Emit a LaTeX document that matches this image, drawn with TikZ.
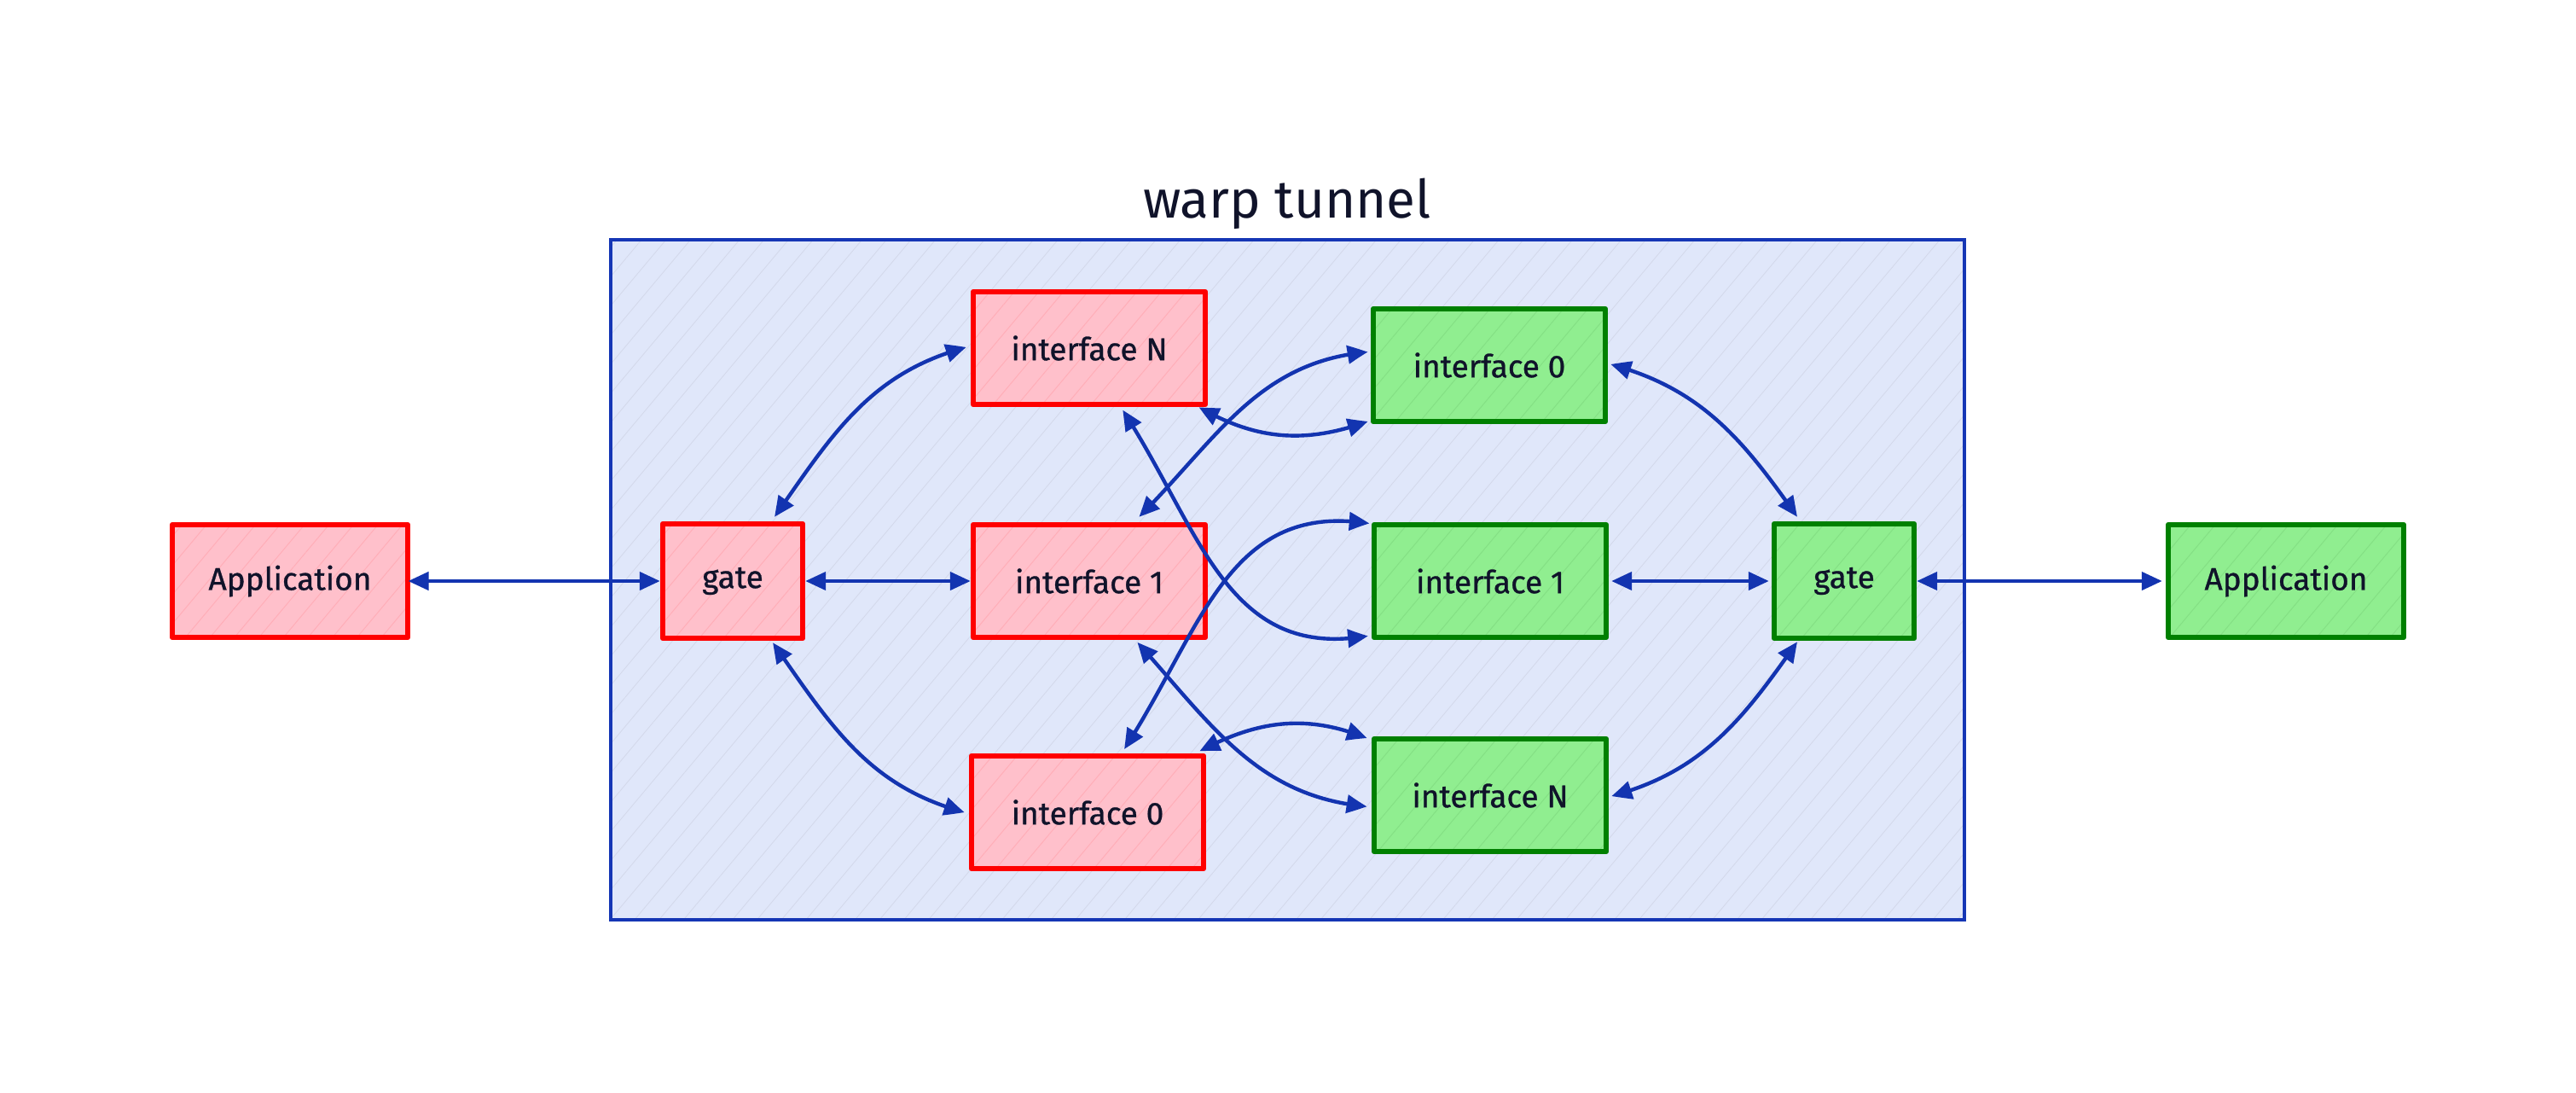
\documentclass[tikz,border=0pt]{standalone}
\usepackage{fontspec}
\setmainfont{Fira Sans}
\newfontfamily\boxfont{Fira Sans}[FakeBold=0.8]
\usetikzlibrary{arrows.meta,patterns.meta,bending}

\definecolor{tunnelfill}{HTML}{E0E7FA}
\definecolor{tunnelline}{HTML}{D3D8EA}
\definecolor{tunneldraw}{HTML}{1536B5}
\definecolor{redfill}{HTML}{FFC0CB}
\definecolor{redline}{HTML}{FFAEB8}
\definecolor{reddraw}{HTML}{FF0000}
\definecolor{greenfill}{HTML}{90EE90}
\definecolor{greenline}{HTML}{84E084}
\definecolor{greendraw}{HTML}{008000}
\definecolor{arrowcol}{HTML}{1334B0}
\definecolor{textcol}{HTML}{10132A}

\tikzset{
  boxbase/.style={rectangle, inner sep=0pt, text=textcol,
    font=\boxfont\fontsize{18.5}{20}\selectfont, line width=3.2pt, line join=round},
  redbox/.style={boxbase, draw=reddraw, preaction={fill=redfill},
    pattern={Lines[angle=50,distance=11pt,line width=0.5pt]}, pattern color=redline},
  greenbox/.style={boxbase, draw=greendraw, preaction={fill=greenfill},
    pattern={Lines[angle=50,distance=11pt,line width=0.5pt]}, pattern color=greenline},
  ifacesz/.style={minimum width=136pt, minimum height=66pt},
  gatesz/.style={minimum width=82pt, minimum height=67pt},
  appsz/.style={minimum width=138pt, minimum height=66pt},
  tunnelbox/.style={rectangle, draw=tunneldraw, line width=2.2pt,
    preaction={fill=tunnelfill},
    pattern={Lines[angle=50,distance=11pt,line width=0.4pt]}, pattern color=tunnelline},
  titletext/.style={text=textcol, font=\fontsize{31}{34}\selectfont, inner sep=0pt},
  link/.style={draw=arrowcol, line width=2.2pt, line cap=round,
    {Triangle[length=12pt,width=10.5pt,bend]}-{Triangle[length=12pt,width=10.5pt,bend]}},
}

\begin{document}
\begin{tikzpicture}[x=1pt,y=1pt]
\useasboundingbox (0,0) rectangle (1510,-640);
\fill[white] (0,0) rectangle (1510,-640);

% tunnel
\node[tunnelbox, minimum width=793.5pt, minimum height=398.5pt] (tunnel) at (754.75,-339.75) {};
\node[titletext, anchor=base] (title) at (754.5,-127.5) {warp tunnel};

% left side (red)
\node[redbox, appsz]   (appL) at (170,-340.5)   {Application};
\node[redbox, gatesz]  (gL)   at (429.5,-340.5) {gate};
\node[redbox, ifacesz] (rN)   at (638.5,-204)   {interface N};
\node[redbox, ifacesz] (r1)   at (638.5,-340.5) {interface 1};
\node[redbox, ifacesz] (r0)   at (637.5,-476)   {interface 0};

% right side (green)
\node[greenbox, ifacesz] (g0)   at (873,-214)     {interface 0};
\node[greenbox, ifacesz] (g1)   at (873.5,-340.5) {interface 1};
\node[greenbox, ifacesz] (gN)   at (873.5,-466)   {interface N};
\node[greenbox, gatesz]  (gR)   at (1081,-340.5)  {gate};
\node[greenbox, appsz]   (appR) at (1340,-340.5)  {Application};

% straight links
\draw[link] (appL.east) -- (gL.west);
\draw[link] (gL.east) -- (r1.west);
\draw[link] ([xshift=1.5pt]g1.east) -- ([xshift=-1.5pt]gR.west);
\draw[link] (gR.east) -- ([xshift=-2pt]appR.west);

% left gate fan
\draw[link] ([xshift=24.5pt,yshift=2.5pt]gL.north) to[out=55,in=195] ([xshift=-2.5pt,yshift=0.5pt]rN.west);
\draw[link] ([xshift=23.5pt,yshift=-1pt]gL.south) to[out=-55,in=165] ([xshift=-2.5pt]r0.west);

% right gate fan
\draw[link] ([xshift=-27.5pt,yshift=2.5pt]gR.north) to[out=125,in=-15] ([xshift=1.5pt,yshift=0.5pt]g0.east);
\draw[link] ([xshift=-27.5pt,yshift=-0.5pt]gR.south) to[out=-125,in=15] ([xshift=1.5pt,yshift=-0.5pt]gN.east);

% crossing links
\draw[link] ([xshift=19.6pt,yshift=-1.7pt]rN.south) to[out=-57,in=190,looseness=1.1] ([xshift=-2pt,yshift=2.5pt]g1.south west);
\draw[link] ([xshift=-5.3pt]rN.south east) to[out=-30,in=200] ([xshift=-1.6pt,yshift=1.7pt]g0.south west);
\draw[link] ([xshift=29.2pt,yshift=3pt]r1.north) to[out=45,in=185] ([xshift=-1.6pt,yshift=7.7pt]g0.west);
\draw[link] ([xshift=28.2pt,yshift=-1.3pt]r1.south) to[out=-48,in=175] ([xshift=-2.6pt,yshift=-6.6pt]gN.west);
\draw[link] ([xshift=21.5pt,yshift=2.4pt]r0.north) to[out=57,in=171,looseness=1.1] ([xshift=-1.2pt,yshift=-0.9pt]g1.north west);
\draw[link] ([xshift=-3.9pt,yshift=1.2pt]r0.north east) to[out=28,in=158] ([xshift=-2.6pt,yshift=-1.2pt]gN.north west);
\end{tikzpicture}
\end{document}
